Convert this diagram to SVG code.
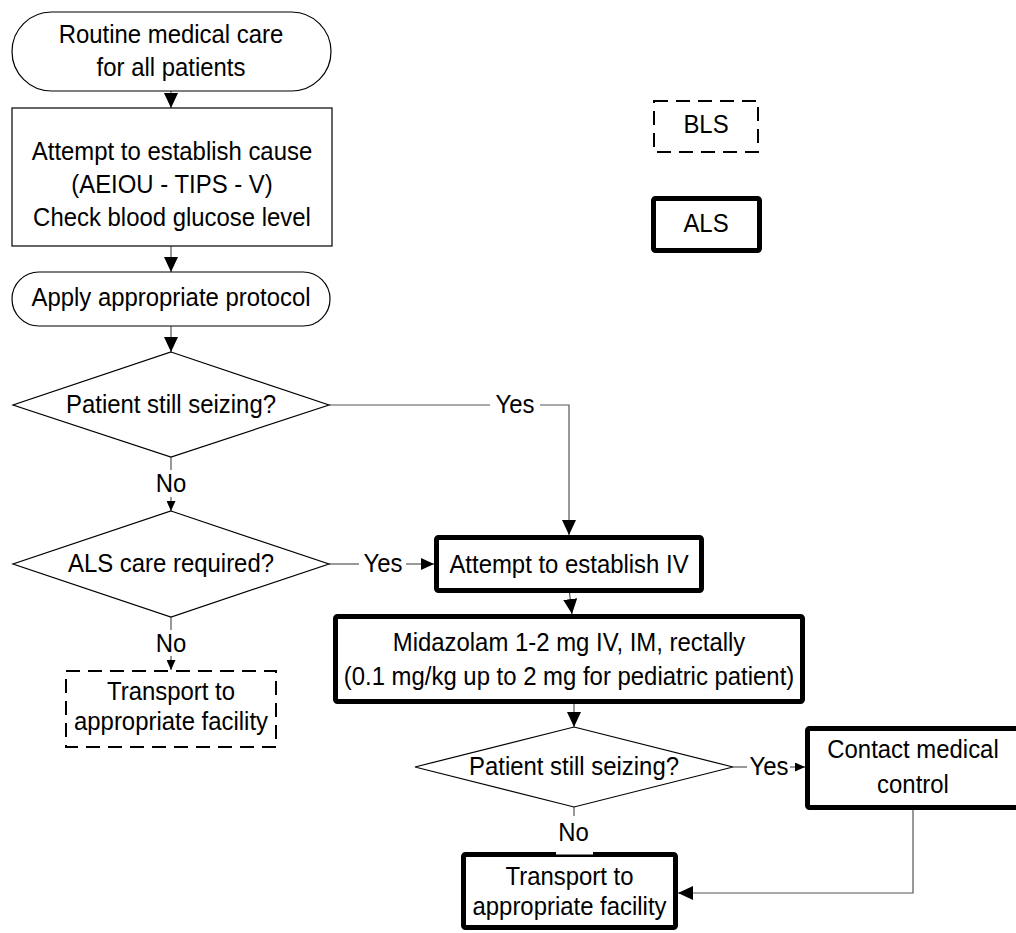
<svg xmlns="http://www.w3.org/2000/svg" width="1016" height="933" viewBox="0 0 1016 933">
  <style>
    text { font-family: "Liberation Sans", Arial, sans-serif; font-size: 26px; fill: #000; text-anchor: middle; }
    .thin { fill: #fff; stroke: #000; stroke-width: 1.2; }
    .bls { fill: #fff; stroke: #000; stroke-width: 2; stroke-dasharray: 14 8; }
    .als { fill: #fff; stroke: #000; stroke-width: 5; }
    .conn { fill: none; stroke: #555; stroke-width: 1.2; }
    .bg { fill: #fff; stroke: none; }
  </style>
  <defs>
    <marker id="arrowL" viewBox="0 0 15 14" refX="15" refY="7" markerWidth="15" markerHeight="14" markerUnits="userSpaceOnUse" orient="auto">
      <path d="M0,0 L15,7 L0,14 z" fill="#000"/>
    </marker>
    <marker id="arrowM" viewBox="0 0 13 12" refX="13" refY="6" markerWidth="13" markerHeight="12" markerUnits="userSpaceOnUse" orient="auto">
      <path d="M0,0 L13,6 L0,12 z" fill="#000"/>
    </marker>
    <marker id="arrowS" viewBox="0 0 10 9" refX="10" refY="4.5" markerWidth="10" markerHeight="9" markerUnits="userSpaceOnUse" orient="auto">
      <path d="M0,0 L10,4.5 L0,9 z" fill="#000"/>
    </marker>
  </defs>

  <!-- connectors -->
  <g id="connectors">
    <line class="conn" x1="171" y1="91" x2="171" y2="108" marker-end="url(#arrowL)"/>
    <line class="conn" x1="171" y1="246" x2="171" y2="272" marker-end="url(#arrowL)"/>
    <line class="conn" x1="171" y1="326" x2="171" y2="352" marker-end="url(#arrowL)"/>
    <!-- seizing? yes -->
    <polyline class="conn" points="329,405 490,405"/>
    <polyline class="conn" points="540,405 569,405 569,535" marker-end="url(#arrowL)"/>
    <!-- seizing? no -->
    <line class="conn" x1="171" y1="457" x2="171" y2="470"/>
    <line class="conn" x1="171" y1="497" x2="171" y2="511" marker-end="url(#arrowS)"/>
    <!-- ALS required? yes -->
    <line class="conn" x1="329" y1="564" x2="359" y2="564"/>
    <line class="conn" x1="406" y1="564" x2="434" y2="564" marker-end="url(#arrowM)"/>
    <!-- ALS required? no -->
    <line class="conn" x1="171" y1="617" x2="171" y2="630"/>
    <line class="conn" x1="171" y1="656" x2="171" y2="670" marker-end="url(#arrowS)"/>
    <!-- IV to midazolam -->
    <line class="conn" x1="569.5" y1="593" x2="572" y2="614" marker-end="url(#arrowL)"/>
    <!-- midazolam to seizing? -->
    <line class="conn" x1="574" y1="704" x2="574" y2="727" marker-end="url(#arrowL)"/>
    <!-- still seizing yes -->
    <line class="conn" x1="733" y1="767" x2="747" y2="767"/>
    <line class="conn" x1="790" y1="767" x2="805" y2="767" marker-end="url(#arrowS)"/>
    <!-- still seizing no -->
    <line class="conn" x1="574" y1="807" x2="574" y2="852"/>
    <!-- contact medical control to transport -->
    <polyline class="conn" points="913,810 913,893 678,893" marker-end="url(#arrowL)"/>
  </g>

  <!-- nodes; labels use a slightly condensed face -->
  <g id="routine-care">
    <rect class="thin" x="12" y="12" width="319" height="79" rx="39.5" ry="39.5"/>
    <text transform="matrix(0.92 0 0 1 171 43)">Routine medical care</text>
    <text transform="matrix(0.92 0 0 1 171 76)">for all patients</text>
  </g>
  <g id="establish-cause">
    <rect class="thin" x="12" y="108" width="320" height="138"/>
    <text transform="matrix(0.92 0 0 1 172 160)">Attempt to establish cause</text>
    <text transform="matrix(0.92 0 0 1 172 193)">(AEIOU - TIPS - V)</text>
    <text transform="matrix(0.92 0 0 1 172 226)">Check blood glucose level</text>
  </g>
  <g id="apply-protocol">
    <rect class="thin" x="12" y="272" width="318" height="54" rx="27" ry="27"/>
    <text transform="matrix(0.92 0 0 1 171 306)">Apply appropriate protocol</text>
  </g>
  <g id="still-seizing-1">
    <polygon class="thin" points="171,352 329,405 171,457 13,405"/>
    <text transform="matrix(0.92 0 0 1 171 413)">Patient still seizing?</text>
  </g>
  <g id="label-yes-1">
    <text transform="matrix(0.92 0 0 1 515 413)">Yes</text>
  </g>
  <g id="label-no-1">
    <text transform="matrix(0.92 0 0 1 171 492)">No</text>
  </g>
  <g id="als-required">
    <polygon class="thin" points="171,511 329,564 171,617 13,564"/>
    <text transform="matrix(0.92 0 0 1 171 572)">ALS care required?</text>
  </g>
  <g id="label-yes-2">
    <text transform="matrix(0.92 0 0 1 383 572)">Yes</text>
  </g>
  <g id="label-no-2">
    <text transform="matrix(0.92 0 0 1 171 652)">No</text>
  </g>
  <g id="transport-bls">
    <rect class="bls" x="66" y="671" width="210" height="76"/>
    <text transform="matrix(0.92 0 0 1 171 700)">Transport to</text>
    <text transform="matrix(0.92 0 0 1 171 730)">appropriate facility</text>
  </g>
  <g id="establish-iv">
    <rect class="als" x="436.5" y="537.5" width="265" height="53" rx="2"/>
    <text transform="matrix(0.92 0 0 1 569 573)">Attempt to establish IV</text>
  </g>
  <g id="midazolam">
    <rect class="als" x="335.5" y="616.5" width="467" height="85" rx="2"/>
    <text transform="matrix(0.92 0 0 1 569 651)">Midazolam 1-2 mg IV, IM, rectally</text>
    <text transform="matrix(0.92 0 0 1 569 685)">(0.1 mg/kg up to 2 mg for pediatric patient)</text>
  </g>
  <g id="still-seizing-2">
    <polygon class="thin" points="574,727 733,767 574,807 415,767"/>
    <text transform="matrix(0.92 0 0 1 574 775)">Patient still seizing?</text>
  </g>
  <g id="label-yes-3">
    <text transform="matrix(0.92 0 0 1 769 775)">Yes</text>
  </g>
  <g id="contact-control">
    <rect class="als" x="807.5" y="728.5" width="211" height="79" rx="2"/>
    <text transform="matrix(0.92 0 0 1 913 758)">Contact medical</text>
    <text transform="matrix(0.92 0 0 1 913 793)">control</text>
  </g>
  <g id="transport-als">
    <rect class="als" x="463.5" y="854.5" width="212" height="73" rx="2"/>
    <text transform="matrix(0.92 0 0 1 569.5 885)">Transport to</text>
    <text transform="matrix(0.92 0 0 1 569.5 915)">appropriate facility</text>
  </g>
  <g id="label-no-3">
    <rect class="bg" x="556" y="816" width="37" height="38.5"/>
    <text transform="matrix(0.92 0 0 1 573.5 841)">No</text>
  </g>

  <!-- legend -->
  <g id="legend-bls">
    <rect class="bls" x="654" y="101" width="104" height="51"/>
    <text transform="matrix(0.92 0 0 1 706 133)">BLS</text>
  </g>
  <g id="legend-als">
    <rect class="als" x="653.5" y="198.5" width="106" height="52" rx="2"/>
    <text transform="matrix(0.92 0 0 1 706 232)">ALS</text>
  </g>
</svg>
